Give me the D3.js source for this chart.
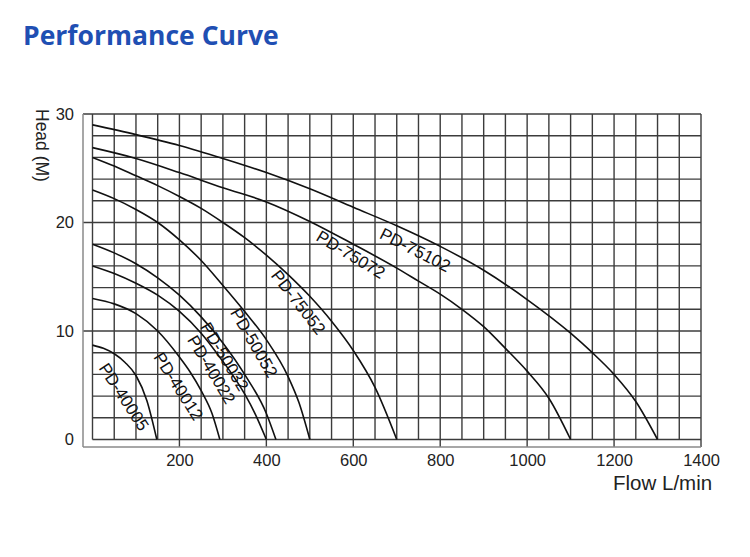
<!DOCTYPE html>
<html>
<head>
<meta charset="utf-8">
<script src="https://cdn.jsdelivr.net/npm/d3@7"></script>
<style>
  html, body { margin: 0; padding: 0; background: #fff; }
  svg { display: block; }
</style>
</head>
<body>
<svg id="chart" width="750" height="557"></svg>
<script>
// ---------- data (flow L/min, head M) ----------
const pd40005 = [[0,8.7],[25,8.4],[50,7.9],[75,7.1],[100,5.9],[125,3.6],[148,0]];
const pd40012 = [[0,13],[50,12.5],[100,11.6],[150,10.0],[200,7.6],[225,6.2],[250,4.5],[275,2.4],[293,0]];
const pd40022 = [[0,16],[50,15.3],[100,14.4],[150,13.3],[200,11.8],[250,9.8],[300,7.2],[325,5.8],[350,4.2],[375,2.3],[400,0]];
const pd50032 = [[0,18],[50,17.2],[100,16.2],[150,14.9],[200,13.3],[250,11.3],[300,8.9],[350,6],[400,2.4],[422,0]];
const pd50052 = [[0,23],[50,22.2],[100,21.2],[150,20],[200,18.4],[250,16.5],[300,14.2],[350,11.8],[400,9.2],[450,5.8],[475,3.4],[500,0]];
const pd75052 = [[0,26],[50,25.2],[100,24.3],[150,23.4],[200,22.4],[250,21.3],[300,20],[350,18.6],[400,17],[450,15.2],[500,13.2],[550,10.9],[600,8.2],[650,4.8],[700,0]];
const pd75072 = [[0,26.9],[100,25.9],[200,24.6],[300,23.2],[400,21.9],[500,20.1],[600,18],[700,15.8],[750,14.6],[800,13.4],[850,12],[900,10.4],[950,8.4],[1000,6.3],[1050,3.8],[1100,0]];
const pd75102 = [[0,29],[100,28.1],[200,27.1],[300,25.9],[400,24.6],[500,23.1],[600,21.4],[700,19.7],[800,17.8],[900,15.6],[1000,12.9],[1100,9.8],[1150,8],[1200,6],[1250,3.5],[1300,0]];

const modelNames = ["PD-40005","PD-40012","PD-40022","PD-50032","PD-50052","PD-75052","PD-75072","PD-75102"];
const modelCurves = [pd40005, pd40012, pd40022, pd50032, pd50052, pd75052, pd75072, pd75102];

// label anchor (baseline start) in data units
const labelFlow = [13, 139, 217, 247, 316, 409, 512, 658];
const labelHead = [6.6, 7.6, 9.2, 10.4, 11.7, 15.1, 18.4, 18.6];
const labelAngle = [57, 57.5, 59, 59, 60, 52, 31, 27];

const xTicks = [200, 400, 600, 800, 1000, 1200, 1400];
const yTicks = [0, 10, 20, 30];
const xGridStep = 50, yGridStep = 2;

// ---------- layout ----------
const svg = d3.select("#chart");
const x = d3.scaleLinear().domain([0, 1400]).range([92.5, 701]);
const y = d3.scaleLinear().domain([0, 30]).range([439.5, 114]);
const axisX0 = 83, axisY0 = 447;
const gridColor = "#3c3c3c";
const axisColor = "#8a8a8a";
const font = "'Liberation Sans', Arial, Helvetica, sans-serif";

// title
svg.append("text")
  .attr("x", 23).attr("y", 45)
  .attr("font-family", "'Open Sans', 'Noto Sans', sans-serif")
  .attr("font-weight", 700).attr("font-size", 26.5)
  .attr("fill", "#1f4fb3")
  .text("Performance Curve");

// grid
const grid = svg.append("g");
const hVals = d3.range(0, 30 + 0.001, yGridStep);
grid.selectAll("line.h").data(hVals).join("line")
  .attr("x1", d => (yTicks.includes(d) && d !== 0) ? axisX0 : x(0))
  .attr("x2", x(1400))
  .attr("y1", d => y(d)).attr("y2", d => y(d))
  .attr("stroke", gridColor).attr("stroke-width", 1.4);
const vVals = d3.range(0, 1400 + 0.001, xGridStep);
grid.selectAll("line.v").data(vVals).join("line")
  .attr("x1", d => x(d)).attr("x2", d => x(d))
  .attr("y1", y(30))
  .attr("y2", d => xTicks.includes(d) ? axisY0 : y(0))
  .attr("stroke", gridColor).attr("stroke-width", 1.4);

// axis lines
svg.append("line").attr("x1", axisX0).attr("x2", axisX0).attr("y1", y(30)).attr("y2", axisY0)
  .attr("stroke", axisColor).attr("stroke-width", 1.5);
svg.append("line").attr("x1", axisX0).attr("x2", x(1400)).attr("y1", axisY0).attr("y2", axisY0)
  .attr("stroke", axisColor).attr("stroke-width", 1.5);

// axes (labels)
const gx = svg.append("g").attr("transform", `translate(0,${axisY0})`)
  .call(d3.axisBottom(x).tickValues(xTicks).tickFormat(d3.format("d")).tickSize(0).tickPadding(7));
gx.select(".domain").remove();
gx.attr("font-family", null).attr("font-size", null);
gx.selectAll("text").attr("font-family", font).attr("font-size", 16.5).attr("fill", "#222");

const gy = svg.append("g").attr("transform", `translate(${axisX0},0)`)
  .call(d3.axisLeft(y).tickValues(yTicks).tickFormat(d3.format("d")).tickSize(0).tickPadding(9));
gy.select(".domain").remove();
gy.attr("font-family", null).attr("font-size", null);
gy.selectAll("text").attr("font-family", font).attr("font-size", 16.5).attr("fill", "#222");

// axis titles
svg.append("text")
  .attr("transform", "translate(36,109) rotate(90)")
  .attr("font-family", font).attr("font-size", 17.5).attr("fill", "#222")
  .text("Head (M)");
svg.append("text")
  .attr("x", 613).attr("y", 490)
  .attr("font-family", font).attr("font-size", 20.5).attr("fill", "#222")
  .text("Flow L/min");

// curves
const line = d3.line().x(d => x(d[0])).y(d => y(d[1])).curve(d3.curveMonotoneX);
svg.append("g").selectAll("path").data(modelCurves).join("path")
  .attr("d", line)
  .attr("fill", "none").attr("stroke", "#111").attr("stroke-width", 1.6);

// curve labels
svg.append("g").selectAll("text").data(modelNames).join("text")
  .attr("transform", (d, i) => `translate(${x(labelFlow[i])},${y(labelHead[i])}) rotate(${labelAngle[i]})`)
  .attr("font-family", font).attr("font-size", 17).attr("fill", "#111")
  .text(d => d);
</script>
</body>
</html>
